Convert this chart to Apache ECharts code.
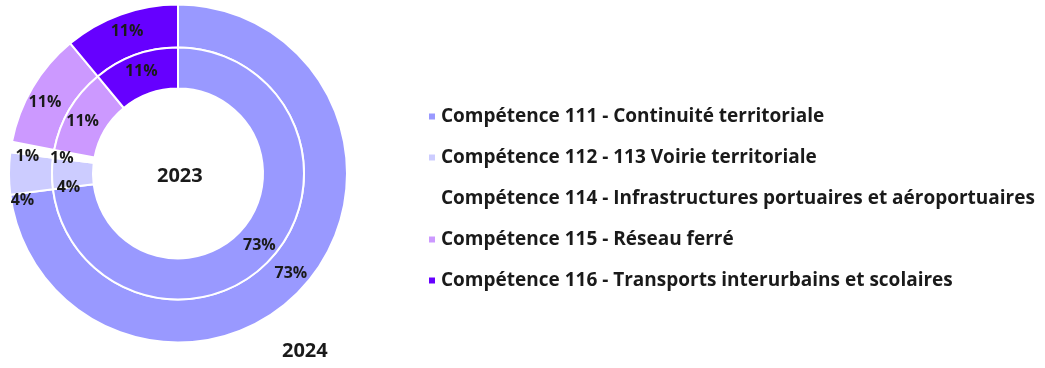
<!DOCTYPE html>
<html>
<head>
<meta charset="utf-8">
<script src="https://cdn.jsdelivr.net/npm/echarts@6/dist/echarts.min.js"></script>
<style>
html,body{margin:0;padding:0;background:#fff;}
#chart{width:1045px;height:368px;}
</style>
</head>
<body>
<div id="chart"></div>
<script>
const categories = [
  "Compétence 111 - Continuité territoriale",
  "Compétence 112 - 113 Voirie territoriale",
  "Compétence 114 - Infrastructures portuaires et aéroportuaires",
  "Compétence 115 - Réseau ferré",
  "Compétence 116 - Transports interurbains et scolaires"
];
const values2023 = [73, 4, 1, 11, 11];
const values2024 = [73, 4, 1, 11, 11];
const colors = ["#9999FF", "#CCCCFF", "#FFFFFF", "#CC99FF", "#6600FF"];
const ringLabels = ["2023", "2024"];

const FONT = "'Open Sans', 'Liberation Sans', sans-serif";
const CX = 178, CY = 173.5;

const outerOffsets = {1: [-5, 26.5], 2: [-2, 6.5], 3: [-3.5, 6]};
const innerOffsets = {1: [-1, 14], 2: [-9, 1.5], 3: [-2, 3]};

function mkData(vals) {
  return categories.map((n, i) => ({name: n, value: vals[i], itemStyle: {color: colors[i]}}));
}
function mkLayout(off) {
  return function (p) {
    const o = off[p.dataIndex];
    return o ? {dx: o[0], dy: o[1]} : {};
  };
}
const labelStyle = {
  show: true, position: 'inside', formatter: '{c}%',
  fontFamily: FONT, fontWeight: 'bold', fontSize: 16, color: '#1a1a1a'
};

const chart = echarts.init(document.getElementById('chart'), null, {renderer: 'canvas'});
chart.setOption({
  animation: false,
  legend: {
    orient: 'vertical', left: 427, top: 106, padding: 0,
    icon: 'rect', itemWidth: 8, itemHeight: 8, itemGap: 20,
    selectedMode: false,
    data: categories,
    textStyle: {fontFamily: FONT, fontWeight: 'bold', fontSize: 19, color: '#1a1a1a', lineHeight: 21}
  },
  graphic: [
    {type: 'text', left: 157, top: 166, style: {text: ringLabels[0], font: "bold 20px " + FONT, fill: '#1a1a1a'}},
    {type: 'text', left: 282, top: 341, style: {text: ringLabels[1], font: "bold 20px " + FONT, fill: '#1a1a1a'}}
  ],
  series: [
    {
      name: ringLabels[1], type: 'pie', center: [CX, CY], radius: [126, 169],
      startAngle: 90, clockwise: true, avoidLabelOverlap: false,
      itemStyle: {borderColor: '#fff', borderWidth: 2},
      label: labelStyle, labelLine: {show: false},
      labelLayout: mkLayout(outerOffsets),
      emphasis: {disabled: true},
      data: mkData(values2024)
    },
    {
      name: ringLabels[0], type: 'pie', center: [CX, CY], radius: [85, 126],
      startAngle: 90, clockwise: true, avoidLabelOverlap: false,
      itemStyle: {borderColor: '#fff', borderWidth: 2},
      label: labelStyle, labelLine: {show: false},
      labelLayout: mkLayout(innerOffsets),
      emphasis: {disabled: true},
      data: mkData(values2023)
    }
  ]
});
</script>
</body>
</html>
